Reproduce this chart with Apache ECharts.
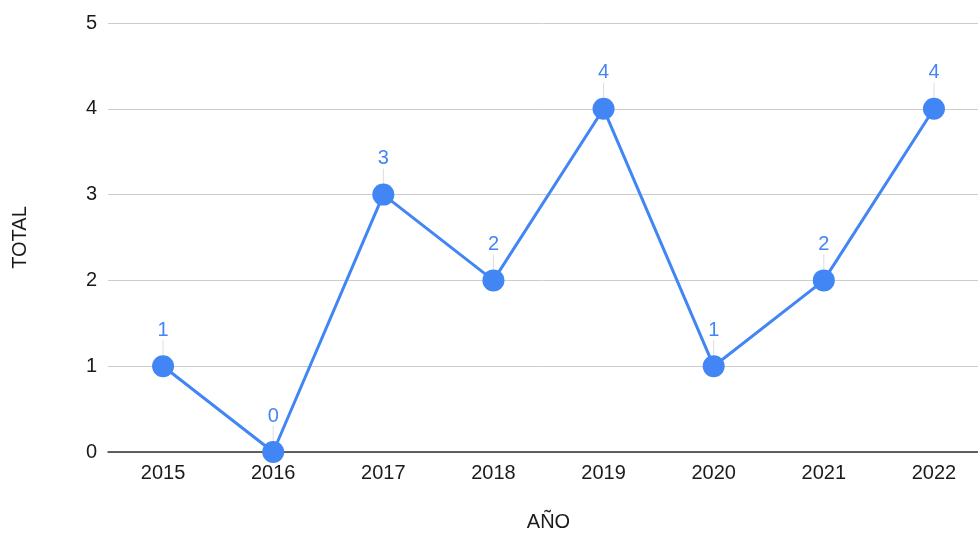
<!DOCTYPE html>
<html><head><meta charset="utf-8">
<script src="https://cdn.jsdelivr.net/npm/echarts@6/dist/echarts.min.js"></script>
<style>html,body{margin:0;padding:0;background:#fff}#c{width:978px;height:534px}</style>
</head><body><div id="c"></div>
<script>
const years = ['2015','2016','2017','2018','2019','2020','2021','2022'];
const totals = [1,0,3,2,4,1,2,4];
const yTicks = [0,1,2,3,4,5];

const FONT = '"Liberation Sans", Arial, sans-serif';
const BLUE = '#4285F4';
const FS = 20;
const chart = echarts.init(document.getElementById('c'));
chart.setOption({
  animation: false,
  grid: { left: 108, right: -11, top: 23, bottom: 82, outerBoundsMode: 'none', containLabel: false },
  xAxis: {
    type: 'category', data: years,
    name: 'AÑO', nameLocation: 'middle', nameGap: 60,
    nameTextStyle: { color: '#1a1a1a', fontSize: FS, fontFamily: FONT },
    axisLine: { lineStyle: { color: '#333', width: 1.5 } },
    axisTick: { show: false },
    axisLabel: { color: '#1a1a1a', fontSize: FS, fontFamily: FONT, margin: 11 }
  },
  yAxis: {
    type: 'value', min: yTicks[0], max: yTicks[yTicks.length-1], interval: 1,
    name: 'TOTAL', nameLocation: 'middle', nameGap: 78, nameRotate: 90,
    nameTextStyle: { color: '#1a1a1a', fontSize: FS, fontFamily: FONT },
    axisLine: { show: false }, axisTick: { show: false },
    splitLine: { lineStyle: { color: '#cccccc', width: 1 } },
    axisLabel: { color: '#1a1a1a', fontSize: FS, fontFamily: FONT, margin: 11 }
  },
  series: [
    {
      type: 'custom', silent: true, z: 1,
      data: totals.map((v,i)=>[i,v]),
      renderItem: function(params, api){
        const p = api.coord([api.value(0), api.value(1)]);
        return { type: 'line', shape: { x1: p[0], y1: p[1]-11, x2: p[0], y2: p[1]-26 },
          style: { stroke: '#dddddd', lineWidth: 1 } };
      }
    },
    {
      type: 'line', data: totals, z: 3,
      symbol: 'circle', symbolSize: 22,
      lineStyle: { color: BLUE, width: 3 },
      itemStyle: { color: BLUE },
      label: { show: true, position: 'top', distance: 15, color: BLUE, fontSize: FS, fontFamily: FONT }
    }
  ]
});
</script></body></html>
